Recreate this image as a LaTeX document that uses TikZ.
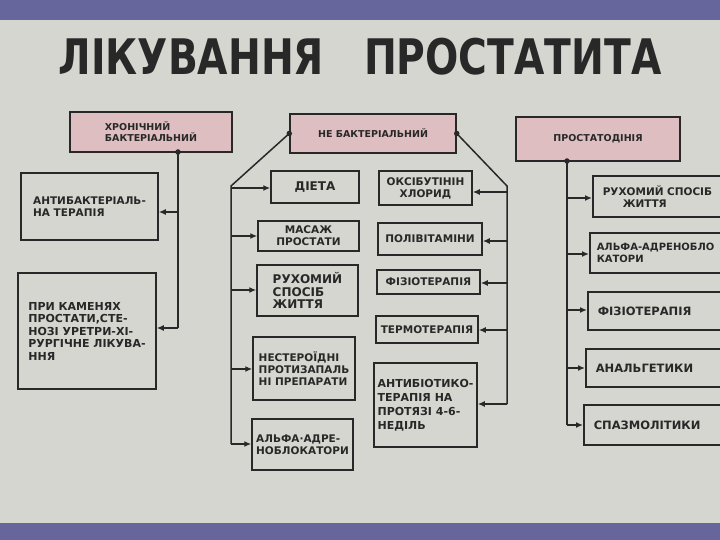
\documentclass[tikz,border=0pt]{standalone}
\usepackage{fontspec}
\setmainfont{DejaVu Sans}
\newfontfamily\titlefont[FakeStretch=0.8]{DejaVu Sans}
\usetikzlibrary{arrows.meta}
\definecolor{paper}{RGB}{214,214,208}
\definecolor{barcol}{RGB}{102,102,156}
\definecolor{pinkfill}{RGB}{222,190,192}
\definecolor{ink}{RGB}{40,40,40}
\tikzset{
    hdrbox/.style = {draw=ink, line width=1.5pt, fill=pinkfill, align=left, inner sep=0pt, text=ink, font=\bfseries\fontsize{9.5}{11}\selectfont},
    medbox/.style = {draw=ink, line width=1.5pt, align=left, inner sep=0pt, text=ink, font=\bfseries\fontsize{10.5}{12}\selectfont},
    rbox/.style = {medbox, anchor=west, text width=170pt, inner xsep=10pt, font=\bfseries\fontsize{11.5}{13}\selectfont},
    bigtxt/.style = {font=\bfseries\fontsize{12}{12.5}\selectfont},
    edgen/.style = {-{Latex[length=7pt,width=6pt]}, line width=1.5pt, draw=ink},
    linen/.style = {-, line width=1.5pt, draw=ink},
    dotn/.style = {circle, fill=ink, inner sep=0pt, minimum size=5.5pt}
}

\begin{document}
\begin{tikzpicture}[x=1pt, y=-1pt, thick]
  \useasboundingbox (0,0) rectangle (720,540);
  \clip (0,0) rectangle (720,540);
  \fill[paper] (0,0) rectangle (720,540);
  \fill[barcol] (0,0) rectangle (720,20);
  \fill[barcol] (0,523) rectangle (720,540);

  \node (title) at (360,75) [anchor=base, text=ink, font=\titlefont\bfseries\fontsize{49}{50}\selectfont] {ЛІКУВАННЯ\hspace{40pt}ПРОСТАТИТА};

  % headers
  \node (chron) at (151,132) [hdrbox, minimum width=162pt, minimum height=40pt] {ХРОНІЧНИЙ\\БАКТЕРІАЛЬНИЙ};
  \node (nonbac) at (373,133.5) [hdrbox, minimum width=166pt, minimum height=39pt] {НЕ БАКТЕРІАЛЬНИЙ};
  \node (prost) at (598,139) [hdrbox, minimum width=164pt, minimum height=44pt] {ПРОСТАТОДІНІЯ};

  % left column
  \node (abt) at (89.5,206.5) [medbox, minimum width=137pt, minimum height=67pt] {АНТИБАКТЕРІАЛЬ-\\НА ТЕРАПІЯ};
  \node (surg) at (87,331) [medbox, minimum width=138pt, minimum height=116pt, font=\bfseries\fontsize{11}{12.5}\selectfont] {ПРИ КАМЕНЯХ\\ПРОСТАТИ,СТЕ-\\НОЗІ УРЕТРИ-ХІ-\\РУРГІЧНЕ ЛІКУВА-\\ННЯ};

  % middle column
  \node (diet) at (315,187) [medbox, bigtxt, minimum width=88pt, minimum height=32pt] {ДІЕТА};
  \node (mass) at (308.5,236) [medbox, align=center, minimum width=101pt, minimum height=30pt] {МАСАЖ\\ПРОСТАТИ};
  \node (mob1) at (307.5,290.5) [medbox, bigtxt, minimum width=101pt, minimum height=51pt] {РУХОМИЙ\\СПОСІБ\\ЖИТТЯ};
  \node (nsaid) at (304,368.5) [medbox, minimum width=102pt, minimum height=63pt] {НЕСТЕРОЇДНІ\\ПРОТИЗАПАЛЬ\\НІ ПРЕПАРАТИ};
  \node (alpha1) at (302.5,444.5) [medbox, minimum width=101pt, minimum height=51pt] {АЛЬФА·АДРЕ-\\НОБЛОКАТОРИ};

  \node (oxy) at (425.5,188) [medbox, align=center, minimum width=93pt, minimum height=34pt] {ОКСІБУТІНІН\\ХЛОРИД};
  \node (vit) at (430,239) [medbox, minimum width=104pt, minimum height=32pt] {ПОЛІВІТАМІНИ};
  \node (phys1) at (428.5,282) [medbox, minimum width=103pt, minimum height=24pt] {ФІЗІОТЕРАПІЯ};
  \node (therm) at (427,329.5) [medbox, minimum width=102pt, minimum height=27pt] {ТЕРМОТЕРАПІЯ};
  \node (antib) at (425.5,405) [medbox, minimum width=103pt, minimum height=84pt, font=\bfseries\fontsize{11}{14}\selectfont] {АНТИБІОТИКО-\\ТЕРАПІЯ НА\\ПРОТЯЗІ 4-6-\\НЕДІЛЬ};

  % right column
  \node (mob2) at (592,196.5) [rbox, minimum height=41pt, font=\bfseries\fontsize{10.5}{12.5}\selectfont] {РУХОМИЙ СПОСІБ\\\hspace*{20pt}ЖИТТЯ};
  \node (alpha2) at (589,253) [rbox, minimum height=40pt, inner xsep=7pt, font=\bfseries\fontsize{10}{12.5}\selectfont] {АЛЬФА-АДРЕНОБЛО\\КАТОРИ};
  \node (phys2) at (587,311) [rbox, minimum height=38pt] {ФІЗІОТЕРАПІЯ};
  \node (anal) at (585,368) [rbox, minimum height=38pt] {АНАЛЬГЕТИКИ};
  \node (spasm) at (583,425) [rbox, minimum height=40pt] {СПАЗМОЛІТИКИ};

  % connectors
  \node (dotA) at (178,152) [dotn] {};
  \coordinate (a1) at (178,212);
  \coordinate (a2) at (178,328);
  \draw[linen] (dotA.center) -- (a2);
  \draw[edgen] (a1) -- (a1 -| abt.east);
  \draw[edgen] (a2) -- (a2 -| surg.east);

  \node (dotB) at (nonbac.west) [dotn] {};
  \coordinate (b0) at (231,186);
  \foreach \y/\n in {188/diet, 236/mass, 290/mob1, 369/nsaid, 444/alpha1} {
    \coordinate (b-\n) at (231,\y);
    \draw[edgen] (b-\n) -- (b-\n -| \n.west);
  }
  \draw[linen] (dotB.center) -- (b0) -- (b-alpha1);

  \node (dotC) at (nonbac.east) [dotn] {};
  \coordinate (c0) at (507,186);
  \foreach \y/\n in {192/oxy, 241/vit, 283/phys1, 330/therm, 404/antib} {
    \coordinate (c-\n) at (507,\y);
    \draw[edgen] (c-\n) -- (c-\n -| \n.east);
  }
  \draw[linen] (dotC.center) -- (c0) -- (c-antib);

  \node (dotD) at (567,161) [dotn] {};
  \foreach \y/\n in {198/mob2, 254/alpha2, 310/phys2, 368/anal, 425/spasm} {
    \coordinate (d-\n) at (567,\y);
    \draw[edgen] (d-\n) -- (d-\n -| \n.west);
  }
  \draw[linen] (dotD.center) -- (d-spasm);
\end{tikzpicture}
\end{document}
